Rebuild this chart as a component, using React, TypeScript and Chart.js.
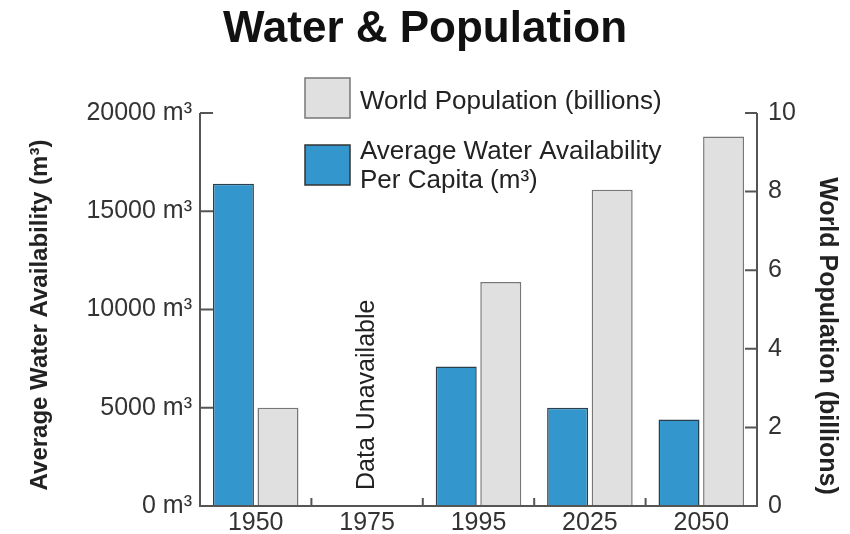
import { useEffect, useRef } from 'react';
import { Chart, registerables } from 'chart.js';

Chart.register(...registerables);

const categories = ['1950', '1975', '1995', '2025', '2050'];
const waterPerCapita = [16400, null, 7100, 5000, 4400];
const population = [2.5, null, 5.7, 8.05, 9.4];
const waterTicks = [0, 5000, 10000, 15000, 20000];
const popTicks = [0, 2, 4, 6, 8, 10];
const titleText = 'Water & Population';
const waterLabel = ['Average Water Availability', 'Per Capita (m³)'];
const popLabel = 'World Population (billions)';
const leftAxisTitle = 'Average Water Availability (m³)';
const rightAxisTitle = 'World Population (billions)';
const noDataNote = 'Data Unavailable';

const FONT = '"Liberation Sans", Arial, Helvetica, sans-serif';
const BLUE = '#3396cc';
const GRAY = '#e0e0e0';

const decor = {
  id: 'decor',
  afterDatasetsDraw(chart: any) {
    const { ctx, chartArea, scales } = chart;
    const { left, right, top, bottom } = chartArea;
    const x = scales.x, y = scales.y, y1 = scales.y1;
    ctx.save();
    ctx.strokeStyle = '#555';
    ctx.lineWidth = 2;
    ctx.beginPath();
    ctx.moveTo(left, top);
    ctx.lineTo(left, bottom);
    ctx.lineTo(right, bottom);
    ctx.lineTo(right, top);
    waterTicks.forEach((v) => {
      const py = y.getPixelForValue(v);
      ctx.moveTo(left, py);
      ctx.lineTo(left + 13, py);
    });
    popTicks.forEach((v) => {
      const py = y1.getPixelForValue(v);
      ctx.moveTo(right, py);
      ctx.lineTo(right - 12, py);
    });
    for (let i = 0; i < categories.length - 1; i++) {
      const px = (x.getPixelForValue(i) + x.getPixelForValue(i + 1)) / 2;
      ctx.moveTo(px, bottom);
      ctx.lineTo(px, bottom - 8);
    }
    ctx.stroke();

    // note for missing data
    ctx.fillStyle = '#222';
    ctx.font = `25px ${FONT}`;
    ctx.save();
    ctx.translate(x.getPixelForValue(1), bottom - 16);
    ctx.rotate(-Math.PI / 2);
    ctx.textAlign = 'left';
    ctx.textBaseline = 'middle';
    ctx.fillText(noDataNote, 0, 0);
    ctx.restore();

    // axis titles
    ctx.textAlign = 'center';
    ctx.textBaseline = 'middle';
    ctx.font = `bold 24px ${FONT}`;
    ctx.save();
    ctx.translate(40, 315);
    ctx.rotate(-Math.PI / 2);
    ctx.fillText(leftAxisTitle, 0, 0);
    ctx.restore();
    ctx.font = `bold 25px ${FONT}`;
    ctx.save();
    ctx.translate(827, 336);
    ctx.rotate(Math.PI / 2);
    ctx.fillText(rightAxisTitle, 0, 0);
    ctx.restore();

    // legend
    ctx.lineWidth = 1.5;
    ctx.fillStyle = GRAY;
    ctx.strokeStyle = '#777';
    ctx.fillRect(305, 78, 45, 40);
    ctx.strokeRect(305, 78, 45, 40);
    ctx.fillStyle = BLUE;
    ctx.strokeStyle = '#333';
    ctx.fillRect(305, 145, 45, 40);
    ctx.strokeRect(305, 145, 45, 40);
    ctx.fillStyle = '#222';
    ctx.font = `26px ${FONT}`;
    ctx.textAlign = 'left';
    ctx.fillText(popLabel, 360, 102);
    ctx.fillText(waterLabel[0], 360, 152);
    ctx.fillText(waterLabel[1], 360, 181);
    ctx.restore();
  },
};

export default function App() {
  const ref = useRef<HTMLCanvasElement | null>(null);
  useEffect(() => {
    if (!ref.current) return;
    const chart = new Chart(ref.current, {
      type: 'bar',
      data: {
        labels: categories,
        datasets: [
          {
            label: waterLabel.join(' '),
            data: waterPerCapita,
            yAxisID: 'y',
            backgroundColor: BLUE,
            borderColor: '#2a3f4c',
            borderWidth: 1.5,
            categoryPercentage: 0.8,
            barPercentage: 0.92,
          },
          {
            label: popLabel,
            data: population,
            yAxisID: 'y1',
            backgroundColor: GRAY,
            borderColor: '#777',
            borderWidth: 1.5,
            categoryPercentage: 0.8,
            barPercentage: 0.92,
          },
        ],
      },
      options: {
        responsive: false,
        animation: false,
        devicePixelRatio: 1,
        layout: { padding: 0 },
        plugins: {
          legend: { display: false },
          tooltip: { enabled: false },
          title: {
            display: true,
            text: titleText,
            color: '#111',
            font: { family: FONT, size: 44, weight: 'bold' },
            padding: { top: 3, bottom: 57.2 },
          },
        },
        scales: {
          x: {
            grid: { display: false, drawTicks: false },
            border: { display: false },
            ticks: { color: '#333', font: { family: FONT, size: 25 }, padding: 2 },
            afterFit: (s: any) => { s.height = 28; },
          },
          y: {
            position: 'left',
            min: 0,
            max: 20000,
            grid: { display: false, drawTicks: false },
            border: { display: false },
            afterBuildTicks: (s: any) => { s.ticks = waterTicks.map((v) => ({ value: v })); },
            ticks: {
              color: '#333',
              font: { family: FONT, size: 25 },
              padding: 8,
              callback: (v: any) => `${v} m³`,
            },
            afterFit: (s: any) => { s.width = 200; },
          },
          y1: {
            position: 'right',
            min: 0,
            max: 10,
            grid: { display: false, drawTicks: false },
            border: { display: false },
            afterBuildTicks: (s: any) => { s.ticks = popTicks.map((v) => ({ value: v })); },
            ticks: { color: '#333', font: { family: FONT, size: 25 }, padding: 11 },
            afterFit: (s: any) => { s.width = 93; },
          },
        },
      },
      plugins: [decor],
    });
    return () => chart.destroy();
  }, []);
  return (
    <div style={{ position: 'fixed', left: 0, top: 0, width: 850, height: 534, background: '#fff' }}>
      <canvas ref={ref} width={850} height={534} />
    </div>
  );
}
